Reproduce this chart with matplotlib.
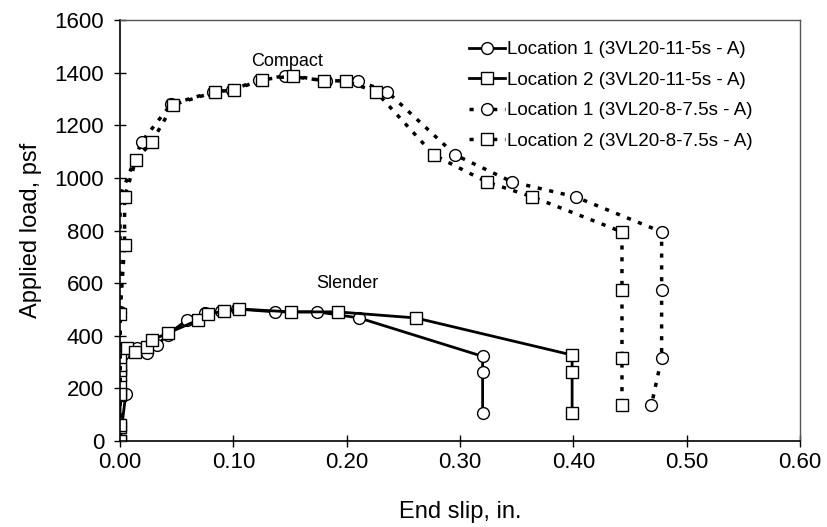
import matplotlib.pyplot as plt

plt.rcParams['font.family'] = ['Liberation Sans', 'DejaVu Sans']

# Slender deck, 3VL20-11-5s - A
sl_loc1_x = [0.0, 0.005, 0.0, 0.003, 0.015, 0.024, 0.033, 0.042, 0.059, 0.075, 0.089, 0.103,
             0.137, 0.174, 0.211, 0.320, 0.320, 0.320]
sl_loc1_y = [0, 178, 260, 330, 354, 335, 365, 405, 460, 487, 494, 502,
             491, 491, 468, 322, 262, 106]
sl_loc2_x = [0.0, 0.0, 0.0, 0.0, 0.0, 0.0, 0.0, 0.0, 0.006, 0.013, 0.024, 0.028, 0.042,
             0.069, 0.078, 0.092, 0.105, 0.151, 0.192, 0.261, 0.399, 0.399, 0.399]
sl_loc2_y = [0, 53, 175, 213, 251, 270, 289, 320, 354, 338, 357, 384, 410,
             460, 483, 494, 502, 491, 491, 468, 327, 262, 106]

# Compact deck, 3VL20-8-7.5s - A
cp_loc1_x = [0.0, 0.0, 0.0, 0.0, 0.0, 0.019, 0.045, 0.082, 0.099, 0.123, 0.146, 0.182,
             0.210, 0.236, 0.296, 0.346, 0.402, 0.478, 0.478, 0.478, 0.469]
cp_loc1_y = [0, 180, 490, 745, 928, 1137, 1280, 1327, 1335, 1373, 1388, 1369,
             1369, 1327, 1087, 985, 928, 795, 574, 316, 137]
cp_loc2_x = [0.0, 0.0, 0.0, 0.0, 0.004, 0.004, 0.014, 0.028, 0.047, 0.084, 0.101, 0.125,
             0.153, 0.180, 0.199, 0.226, 0.277, 0.3235, 0.364, 0.443, 0.443, 0.443, 0.443]
cp_loc2_y = [0, 60, 180, 483, 745, 928, 1068, 1137, 1278, 1327, 1335, 1373,
             1388, 1369, 1369, 1327, 1087, 985, 928, 795, 574, 316, 137]

labels = ['Location 1 (3VL20-11-5s - A)', 'Location 2 (3VL20-11-5s - A)',
          'Location 1 (3VL20-8-7.5s - A)', 'Location 2 (3VL20-8-7.5s - A)']

fig = plt.figure(figsize=(8.28, 5.27), dpi=100)
ax = fig.add_axes([0.145, 0.163, 0.821, 0.799])

dot = (0, (1.2, 2.2))
ax.plot(sl_loc1_x, sl_loc1_y, '-', color='black', lw=2, marker='o', ms=8.5,
        mfc='white', mec='black', mew=1, label=labels[0])
ax.plot(sl_loc2_x, sl_loc2_y, '-', color='black', lw=2, marker='s', ms=8.5,
        mfc='white', mec='black', mew=1, label=labels[1])
ax.plot(cp_loc1_x, cp_loc1_y, linestyle=dot, color='black', lw=2.5, marker='o', ms=8.5,
        mfc='white', mec='black', mew=1, label=labels[2])
ax.plot(cp_loc2_x, cp_loc2_y, linestyle=dot, color='black', lw=2.5, marker='s', ms=8.5,
        mfc='white', mec='black', mew=1, label=labels[3])

ax.text(0.147, 1441, 'Compact', fontsize=13, ha='center', va='center')
ax.text(0.201, 600, 'Slender', fontsize=13, ha='center', va='center')

ax.set_xlim(0, 0.6)
ax.set_ylim(0, 1600)
ax.set_xticks([0.0, 0.1, 0.2, 0.3, 0.4, 0.5, 0.6])
ax.set_xticklabels(['0.00', '0.10', '0.20', '0.30', '0.40', '0.50', '0.60'])
ax.set_yticks(range(0, 1601, 200))
ax.tick_params(direction='inout', length=9, width=1, labelsize=16, colors='black')
ax.tick_params(axis='y', pad=7)
ax.set_xlabel('End slip, in.', fontsize=17, labelpad=20)
ax.set_ylabel('Applied load, psf', fontsize=17, labelpad=9)

for s in ['top', 'right']:
    ax.spines[s].set_color('#555555')
    ax.spines[s].set_linewidth(1)
for s in ['left', 'bottom']:
    ax.spines[s].set_linewidth(1.2)

leg = ax.legend(loc='upper left', bbox_to_anchor=(0.503, 0.968), frameon=False,
                fontsize=13.5, handlelength=1.9, handletextpad=0.1,
                labelspacing=0.72, borderaxespad=0)

fig.savefig('out.png', dpi=100)
